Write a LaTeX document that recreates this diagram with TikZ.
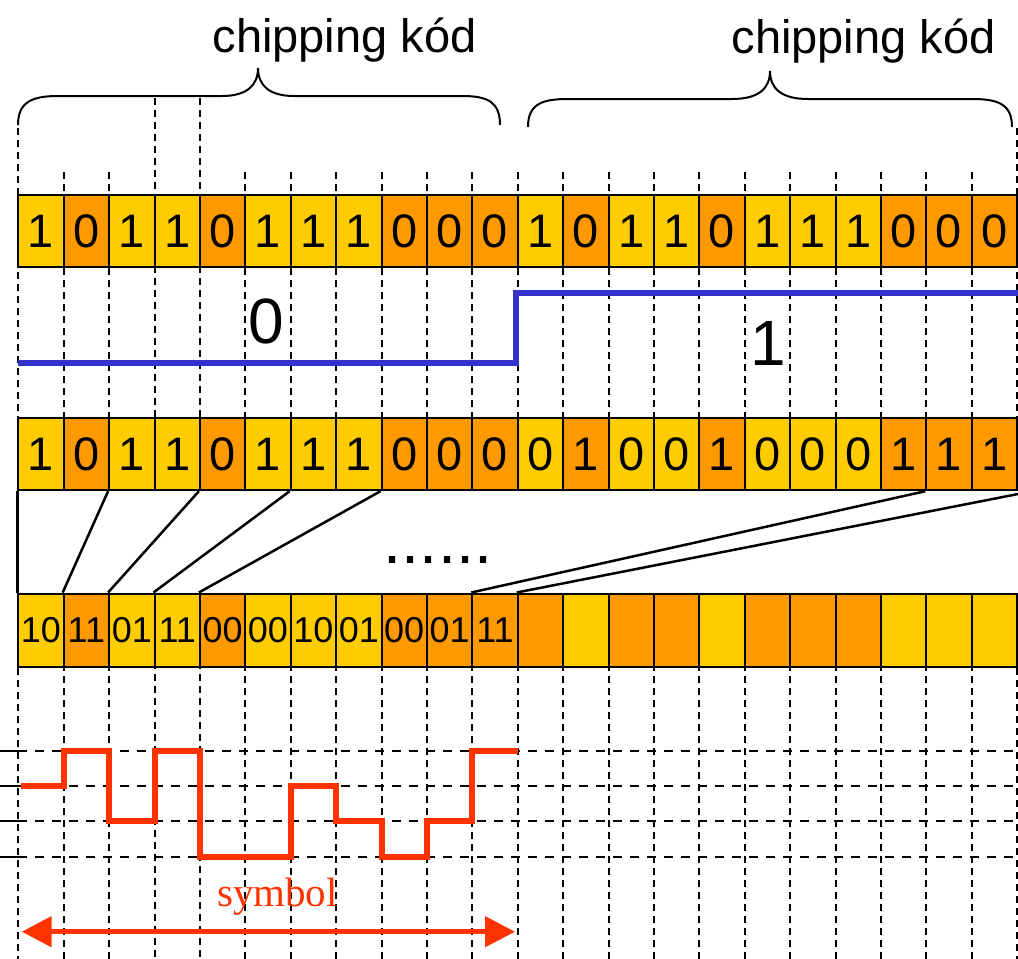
\documentclass[tikz,border=0pt]{standalone}
\usepackage{fontspec}
\setmainfont{Liberation Sans}
\newfontfamily\symfont{Liberation Serif}
\usetikzlibrary{arrows.meta}
\definecolor{chipY}{HTML}{FFCC00}
\definecolor{chipO}{HTML}{FF9900}
\definecolor{dataBlue}{HTML}{3333CC}
\definecolor{symRed}{HTML}{FF3300}
\tikzset{
  chip/.style={draw, line width=2pt, minimum width=45.4pt, minimum height=72pt,
    inner sep=0pt, font=\fontsize{47}{47}\selectfont},
  pair/.style={chip, minimum height=73pt, font=\fontsize{36}{36}\selectfont},
  gridline/.style={line width=2pt, dash pattern=on 7pt off 5pt},
  levelline/.style={line width=2pt, dash pattern=on 9pt off 8pt},
  link/.style={line width=2.5pt},
  brace/.style={line width=2pt},
  dataline/.style={draw=dataBlue, line width=6pt},
  wave/.style={draw=symRed, line width=6pt},
  symarrow/.style={draw=symRed, line width=5pt,
    {Triangle[length=30pt,width=30pt]}-{Triangle[length=30pt,width=30pt]}},
}

\begin{document}
\begin{tikzpicture}[x=1pt, y=-1pt]
		\useasboundingbox (0,0) rectangle (1018,959);

		% Grid lines
		\foreach \k in {0,...,22} {
			\pgfmathsetmacro{\gx}{18.3+45.4*\k}
			\pgfmathsetmacro{\gy}{(\k==0 || \k==22) ? 128 : ((\k==3 || \k==4) ? 98 : 172)}
			\draw[gridline] (\gx,\gy) -- (\gx,959);
		}
		\foreach \y in {750.7,786,821.3,856.7} {
			\draw[line width=2pt] (0,\y) -- (18.3,\y);
			\draw[levelline] (18.3,\y) -- (1018,\y);
		}

		% Define nodes
		\node[anchor=base, font=\fontsize{47}{47}\selectfont] (code1) at (344.5,52) {chipping kód};
		\node[anchor=base, font=\fontsize{47}{47}\selectfont] (code2) at (863.5,53) {chipping kód};

		\foreach \b/\c [count=\k from 0] in {1/Y,0/O,1/Y,1/Y,0/O,1/Y,1/Y,1/Y,0/O,0/O,0/O,
				1/Y,0/O,1/Y,1/Y,0/O,1/Y,1/Y,1/Y,0/O,0/O,0/O}
			\node[chip, fill=chip\c] (a\k) at (41+45.4*\k,231) {\b};

		\foreach \b/\c [count=\k from 0] in {1/Y,0/O,1/Y,1/Y,0/O,1/Y,1/Y,1/Y,0/O,0/O,0/O,
				0/Y,1/O,0/Y,0/Y,1/O,0/Y,0/Y,0/Y,1/O,1/O,1/O}
			\node[chip, fill=chip\c] (c\k) at (41+45.4*\k,454.2) {\b};

		\fill[white] (c0.south west) rectangle (c21.south east |- 0,593.3);

		\foreach \b/\c [count=\k from 0] in {10/Y,11/O,01/Y,11/Y,00/O,00/Y,10/Y,01/Y,00/O,01/O,11/O,
				/O,/Y,/O,/O,/Y,/O,/O,/O,/Y,/Y,/Y}
			\node[pair, fill=chip\c] (d\k) at (41+45.4*\k,630) {\b};

		\node[font=\fontsize{64}{64}\selectfont] (bit0) at (266.7,321.7) {0};
		\node[font=\fontsize{64}{64}\selectfont] (bit1) at (768,343) {1};
		\node[anchor=base, font=\fontsize{65}{65}\selectfont] (dots) at (438,563.5) {......};
		\node[anchor=base, text=symRed, font=\symfont\fontsize{41}{41}\selectfont] (sym) at (277.5,906.7) {symbol};

		% Braces
		\draw[brace] (18,125) .. controls (18,102) and (32,96) .. (58,96) -- (222,96)
			.. controls (246,96) and (258,86) .. (258,68) .. controls (258,86) and (270,96) .. (294,96)
			-- (462,96) .. controls (488,96) and (500,102) .. (500,125);
		\draw[brace] (528,127) .. controls (528,104) and (542,99) .. (568,99) -- (732,99)
			.. controls (758,99) and (770,89) .. (770,71) .. controls (770,89) and (782,99) .. (808,99)
			-- (972,99) .. controls (998,99) and (1012,104) .. (1012,127);

		% Data bit
		\draw[dataline] (18.3,363.3) -- (516,363.3) -- (516,292.7) -- (1018,292.7);

		% Connect the nodes
		\coordinate (cEnd) at (1018,494);
		\draw[link] (c0.south west) -- (d0.north west);
		\draw[link] (c2.south west) -- (d1.north west);
		\draw[link] (c4.south west) -- (d2.north west);
		\draw[link] (c6.south west) -- (d3.north west);
		\draw[link] (c8.south west) -- (d4.north west);
		\draw[link] (c20.south west) -- (d10.north west);
		\draw[link] (cEnd) -- (d11.north west);

		% Symbol waveform
		\draw[wave] (21,786) -- (63.7,786) |- (109.1,750.7) |- (154.5,821.3) |- (199.9,750.7)
			|- (245.3,856.7) |- (290.7,856.7) |- (336.1,786) |- (381.5,821.3) |- (426.9,856.7)
			|- (472.3,821.3) |- (517.7,750.7);
		\coordinate (symL) at (21.7,931.7);
		\coordinate (symR) at (515,931.7);
		\draw[symarrow] (symL) -- (symR);
	\end{tikzpicture}
\end{document}
